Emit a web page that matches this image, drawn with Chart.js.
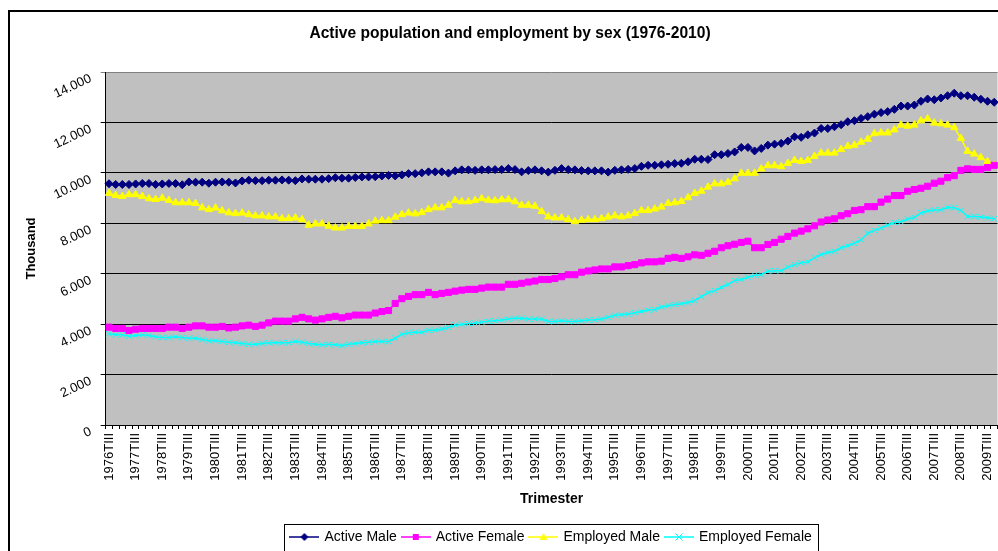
<!DOCTYPE html>
<html>
<head>
<meta charset="utf-8">
<title>Active population and employment by sex</title>
<script src="https://cdn.jsdelivr.net/npm/chart.js@4.4.1/dist/chart.umd.min.js"></script>
<style>
html, body { margin: 0; padding: 0; overflow: hidden; background: #fff; }
#wrap { position: absolute; left: 0; top: 0; width: 1020px; height: 570px; }
</style>
</head>
<body>
<div id="wrap"><canvas id="chart" width="1020" height="570"></canvas></div>
<script>
"use strict";

// quarters run from 1976TIII to 2009TIV (the rest of 2010 is cut off in the picture)
const first_year = 1976;
const last_year = 2009;
const quarter_names = ['TI', 'TII', 'TIII', 'TIV'];

// thousands of people
const active_male = [
    9570, 9540, 9540, 9540, 9560, 9580, 9580, 9540, 9560, 9580,
    9580, 9530, 9640, 9630, 9630, 9590, 9630, 9640, 9630, 9600,
    9680, 9710, 9690, 9690, 9710, 9710, 9720, 9710, 9690, 9760,
    9750, 9750, 9750, 9770, 9810, 9790, 9790, 9820, 9840, 9840,
    9850, 9880, 9900, 9880, 9920, 9970, 9970, 10000, 10040, 10040,
    10040, 9990, 10080, 10120, 10120, 10100, 10120, 10120, 10130, 10130,
    10170, 10130, 10040, 10090, 10120, 10080, 10030, 10100, 10170, 10130,
    10120, 10090, 10080, 10080, 10080, 10030, 10100, 10120, 10140, 10170,
    10260, 10300, 10300, 10320, 10340, 10370, 10380, 10440, 10540, 10540,
    10530, 10720, 10720, 10770, 10830, 11010, 11010, 10870, 10970, 11100,
    11140, 11170, 11260, 11430, 11410, 11510, 11580, 11760, 11760, 11830,
    11910, 12030, 12070, 12160, 12230, 12330, 12390, 12430, 12520, 12650,
    12650, 12690, 12840, 12930, 12900, 12970, 13060, 13160, 13060, 13060,
    13000, 12920, 12840, 12800
];
const active_female = [
    3880, 3830, 3830, 3750, 3800, 3830, 3830, 3830, 3830, 3880,
    3880, 3830, 3880, 3930, 3930, 3880, 3880, 3910, 3850, 3880,
    3930, 3960, 3910, 3960, 4050, 4120, 4120, 4120, 4210, 4270,
    4210, 4160, 4210, 4270, 4310, 4250, 4310, 4360, 4360, 4360,
    4440, 4500, 4540, 4820, 5010, 5100, 5170, 5170, 5260, 5170,
    5220, 5260, 5310, 5350, 5380, 5380, 5430, 5470, 5470, 5470,
    5580, 5580, 5620, 5670, 5710, 5770, 5770, 5810, 5880, 5960,
    5960, 6060, 6110, 6150, 6190, 6190, 6270, 6270, 6320, 6360,
    6430, 6470, 6470, 6500, 6610, 6650, 6610, 6670, 6750, 6730,
    6810, 6890, 7030, 7110, 7170, 7240, 7290, 7030, 7030, 7160,
    7240, 7370, 7480, 7610, 7690, 7780, 7900, 8050, 8130, 8180,
    8300, 8380, 8510, 8540, 8660, 8660, 8840, 8960, 9100, 9100,
    9270, 9340, 9390, 9470, 9590, 9670, 9810, 9890, 10100, 10160,
    10140, 10140, 10210, 10300
];
const employed_male = [
    9190, 9110, 9070, 9140, 9140, 9070, 8980, 8950, 9000, 8910,
    8820, 8820, 8820, 8790, 8620, 8550, 8610, 8500, 8420, 8390,
    8410, 8350, 8300, 8300, 8260, 8260, 8190, 8190, 8220, 8150,
    7930, 7980, 7980, 7890, 7820, 7820, 7880, 7880, 7880, 7980,
    8090, 8110, 8110, 8250, 8350, 8410, 8380, 8430, 8550, 8620,
    8620, 8720, 8910, 8860, 8860, 8910, 8980, 8920, 8900, 8940,
    8940, 8860, 8720, 8720, 8680, 8470, 8260, 8220, 8220, 8150,
    8070, 8130, 8150, 8150, 8190, 8250, 8300, 8260, 8300, 8390,
    8510, 8510, 8570, 8650, 8790, 8820, 8870, 9020, 9190, 9280,
    9440, 9570, 9570, 9630, 9770, 9990, 9990, 9990, 10160, 10290,
    10290, 10250, 10380, 10500, 10460, 10500, 10660, 10790, 10790, 10790,
    10930, 11060, 11100, 11220, 11340, 11560, 11590, 11590, 11710, 11900,
    11860, 11900, 12070, 12150, 11980, 11950, 11900, 11800, 11370, 10860,
    10750, 10610, 10450, 10300
];
const employed_female = [
    3620, 3580, 3580, 3520, 3550, 3580, 3550, 3500, 3470, 3470,
    3500, 3470, 3440, 3440, 3390, 3340, 3340, 3310, 3280, 3260,
    3230, 3200, 3200, 3230, 3260, 3260, 3260, 3260, 3310, 3280,
    3230, 3200, 3180, 3200, 3180, 3150, 3200, 3230, 3260, 3280,
    3310, 3310, 3310, 3440, 3600, 3660, 3680, 3680, 3760, 3760,
    3810, 3870, 3960, 3990, 4030, 4040, 4080, 4120, 4130, 4160,
    4200, 4230, 4230, 4200, 4200, 4200, 4110, 4110, 4130, 4110,
    4110, 4130, 4160, 4170, 4200, 4270, 4350, 4370, 4400, 4450,
    4500, 4560, 4580, 4680, 4730, 4780, 4810, 4860, 4940, 5090,
    5250, 5330, 5460, 5570, 5730, 5770, 5860, 5940, 5960, 6100,
    6120, 6120, 6260, 6360, 6430, 6470, 6630, 6760, 6840, 6890,
    7030, 7110, 7210, 7340, 7610, 7720, 7810, 7930, 8030, 8060,
    8170, 8230, 8410, 8490, 8530, 8540, 8630, 8620, 8510, 8270,
    8270, 8250, 8220, 8180
];

const series_names = ['Active Male', 'Active Female', 'Employed Male', 'Employed Female'];
const series_data = [active_male, active_female, employed_male, employed_female];
const series_colors = ['#000080', '#ff00ff', '#ffff00', '#00ffff'];
const series_markers = ['rectRot', 'rect', 'triangle', 'crossRot'];
const marker_radius = [4, 4.3, 4.3, 4];

const y_ticks = [0, 2000, 4000, 6000, 8000, 10000, 12000, 14000];

function build_quarters() {
    let labels = [];
    for (let year = first_year; year <= last_year; year++) {
        quarter_names.forEach((q, i) => {
            if (year === first_year && i < 2) return;
            labels.push(year + q);
        });
    }
    return labels;
}

function format_thousands(v) {
    if (v === 0) return '0';
    return (v / 1000).toFixed(3);
}

// small line + marker picture, like the excel legend keys
function legend_key(color, marker) {
    const c = document.createElement('canvas');
    c.width = 30;
    c.height = 12;
    const g = c.getContext('2d');
    g.strokeStyle = color;
    g.fillStyle = color;
    g.lineWidth = 1.5;
    g.beginPath();
    g.moveTo(0, 6);
    g.lineTo(30, 6);
    g.stroke();
    g.beginPath();
    if (marker === 'rectRot') {
        g.moveTo(11, 6); g.lineTo(15, 2); g.lineTo(19, 6); g.lineTo(15, 10);
        g.closePath(); g.fill();
    } else if (marker === 'rect') {
        g.fillRect(12, 3, 6, 6);
    } else if (marker === 'triangle') {
        g.moveTo(15, 2); g.lineTo(19, 9); g.lineTo(11, 9);
        g.closePath(); g.fill();
    } else {
        g.lineWidth = 1;
        g.moveTo(11.5, 2.5); g.lineTo(18.5, 9.5);
        g.moveTo(18.5, 2.5); g.lineTo(11.5, 9.5);
        g.stroke();
    }
    return c;
}

const plot_background = {
    id: 'plot_background',
    beforeDraw(chart) {
        const {ctx, chartArea} = chart;
        ctx.save();
        ctx.fillStyle = '#c0c0c0';
        ctx.fillRect(chartArea.left, chartArea.top,
            chartArea.right - chartArea.left, chartArea.bottom - chartArea.top);
        ctx.restore();
    }
};

const frame_and_legend_box = {
    id: 'frame_and_legend_box',
    afterLayout(chart) {
        // excel centres the legend under the plot area and the title on the whole frame
        const lg = chart.legend;
        const mid = (chart.chartArea.left + chart.chartArea.right) / 2;
        const shift = mid - (lg.left + lg.right) / 2;
        lg.left += shift;
        lg.right += shift;
        const tb = chart.titleBlock;
        const tshift = 510 - (tb.left + tb.right) / 2;
        tb.left += tshift;
        tb.right += tshift;
    },
    afterDraw(chart) {
        const {ctx} = chart;
        const lg = chart.legend;
        const pad = lg.options.labels.padding;
        const x0 = (lg.left + pad + lg.right - lg.lineWidths[0]) / 2;
        const w = lg.lineWidths[0] - pad;
        ctx.save();
        ctx.strokeStyle = '#000';
        ctx.lineWidth = 1;
        ctx.strokeRect(Math.round(x0 - 7) + 0.5, Math.round(lg.top) + 0.5, Math.round(w + 14), 27);
        ctx.lineWidth = 2;
        ctx.strokeRect(9, 11, 1002, 548);
        ctx.restore();
    }
};

function draw_chart() {
    Chart.defaults.font.family = 'Arial, "Liberation Sans", sans-serif';
    Chart.defaults.color = '#000';

    const legend_keys = series_names.map((n, i) => legend_key(series_colors[i], series_markers[i]));

    const datasets = series_names.map((name, i) => ({
        label: name,
        data: series_data[i],
        borderColor: series_colors[i],
        backgroundColor: series_colors[i],
        borderWidth: 1.5,
        pointStyle: series_markers[i],
        pointRadius: marker_radius[i],
        pointHoverRadius: marker_radius[i],
        pointBorderWidth: 1,
        pointBorderColor: series_colors[i],
        pointBackgroundColor: series_colors[i],
        tension: 0,
        fill: false
    }));

    new Chart(document.getElementById('chart'), {
        type: 'line',
        data: {
            labels: build_quarters(),
            datasets: datasets
        },
        options: {
            responsive: false,
            animation: false,
            devicePixelRatio: 1,
            events: [],
            layout: {
                padding: {left: 8, top: 0, right: 22.5, bottom: 16}
            },
            scales: {
                x: {
                    type: 'category',
                    offset: true,
                    grid: {offset: true, drawOnChartArea: false, drawTicks: true, tickLength: 4, color: '#000'},
                    border: {display: true, color: '#000'},
                    ticks: {
                        autoSkip: false,
                        minRotation: 90,
                        maxRotation: 90,
                        padding: 4,
                        color: '#000',
                        font: {size: 13},
                        callback: function(v, i) {
                            return i % 4 === 0 ? this.getLabelForValue(v) : '';
                        }
                    },
                    title: {
                        display: true,
                        text: 'Trimester',
                        color: '#000',
                        font: {size: 14, weight: 'bold'},
                        padding: {top: 0, bottom: 16.5}
                    },
                    afterFit: s => { s.height = 99; }
                },
                y: {
                    min: y_ticks[0],
                    max: y_ticks[y_ticks.length - 1],
                    afterBuildTicks: s => { s.ticks = y_ticks.map(v => ({value: v})); },
                    ticks: {
                        color: '#000',
                        font: {size: 13},
                        minRotation: 25,
                        maxRotation: 25,
                        padding: 10,
                        labelOffset: 6,
                        callback: v => format_thousands(v)
                    },
                    grid: {
                        color: c => (c.tick && c.tick.value === 14000) ? '#808080' : '#000',
                        lineWidth: 1,
                        tickLength: 5
                    },
                    border: {display: true, color: '#000'},
                    title: {
                        display: true,
                        text: 'Thousand',
                        color: '#000',
                        font: {size: 13, weight: 'bold'},
                        padding: {top: 16, bottom: 0}
                    },
                    afterFit: s => { s.width = 97.7; }
                }
            },
            plugins: {
                title: {
                    display: true,
                    text: 'Active population and employment by sex (1976-2010)',
                    color: '#000',
                    font: {size: 15.6, weight: 'bold'},
                    padding: {top: 24.6, bottom: 28.7}
                },
                legend: {
                    position: 'bottom',
                    labels: {
                        usePointStyle: true,
                        pointStyleWidth: 26,
                        boxHeight: 10,
                        padding: 6,
                        color: '#000',
                        font: {size: 14},
                        generateLabels(chart) {
                            const items = Chart.defaults.plugins.legend.labels.generateLabels(chart);
                            items.forEach((it, i) => { it.pointStyle = legend_keys[i]; });
                            return items;
                        }
                    }
                },
                tooltip: {enabled: false}
            }
        },
        plugins: [plot_background, frame_and_legend_box]
    });
}

draw_chart();
</script>
</body>
</html>
